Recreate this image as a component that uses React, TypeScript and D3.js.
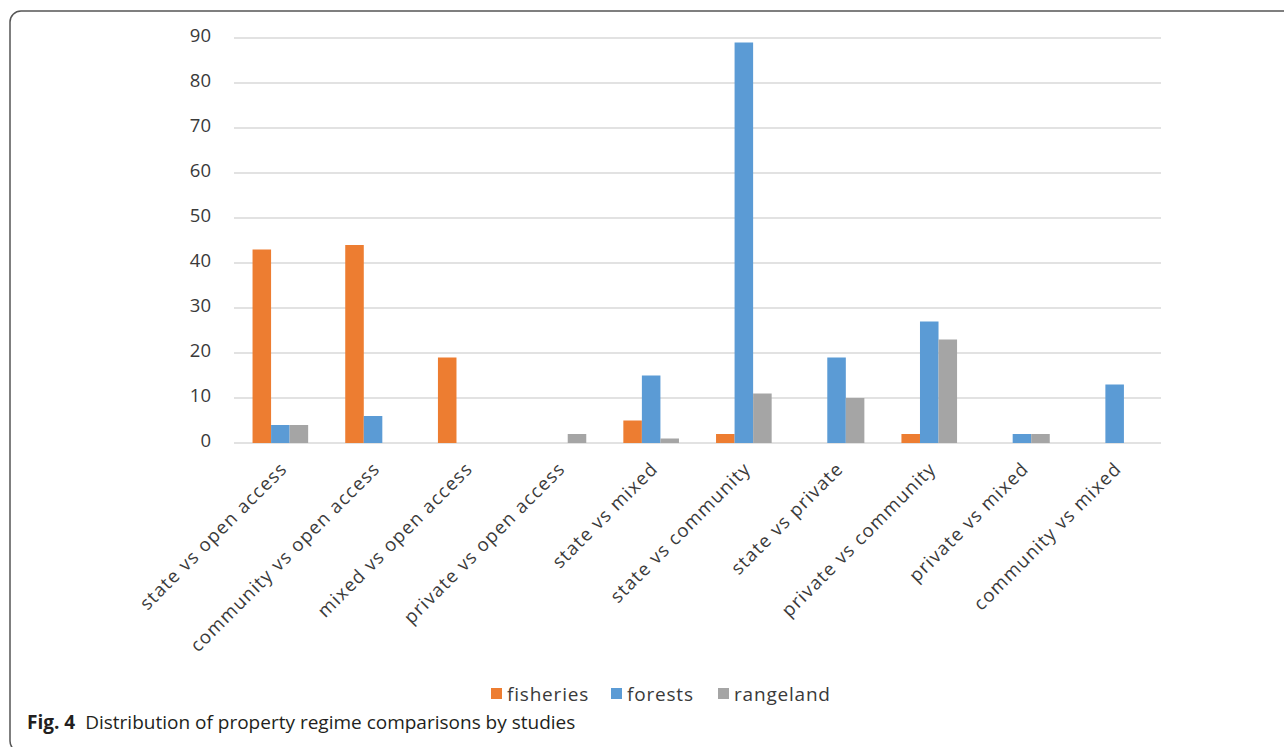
import React, { useEffect, useRef } from "react";
import * as d3 from "d3";

const categories = [
  "state vs open access",
  "community vs open access",
  "mixed vs open access",
  "private vs open access",
  "state vs mixed",
  "state vs community",
  "state vs private",
  "private vs community",
  "private vs mixed",
  "community vs mixed",
];

const seriesNames = ["fisheries", "forests", "rangeland"];
const seriesColors = ["#ED7D31", "#5B9BD5", "#A5A5A5"];

const fisheries = [43, 44, 19, 0, 5, 2, 0, 2, 0, 0];
const forests = [4, 6, 0, 0, 15, 89, 19, 27, 2, 13];
const rangeland = [4, 0, 0, 2, 1, 11, 10, 23, 2, 0];

const yTicks = [0, 10, 20, 30, 40, 50, 60, 70, 80, 90];

const W = 1284;
const H = 747;
const FONT = "'Open Sans', 'Noto Sans', sans-serif";

export default function App() {
  const ref = useRef<SVGSVGElement | null>(null);

  useEffect(() => {
    const svg = d3.select(ref.current);
    svg.selectAll("*").remove();

    const values = [fisheries, forests, rangeland];
    const left = 234, right = 1161, top = 38, bottom = 443;

    const x = d3.scaleBand<string>().domain(categories).range([left, right]).paddingInner(0.4).paddingOuter(0.2);
    const xs = d3.scaleBand<string>().domain(seriesNames).range([0, x.bandwidth()]);
    const y = d3.scaleLinear().domain([0, 90]).range([bottom, top]);

    // figure frame (continues past the right and bottom edges)
    svg.append("rect")
      .attr("x", 10).attr("y", 11)
      .attr("width", 1300).attr("height", 741)
      .attr("rx", 11).attr("ry", 11)
      .attr("fill", "none").attr("stroke", "#555").attr("stroke-width", 1.5);

    // gridlines
    svg.append("g").selectAll("line").data(yTicks).join("line")
      .attr("x1", left).attr("x2", right)
      .attr("y1", (d) => y(d)).attr("y2", (d) => y(d))
      .attr("stroke", "#d9d9d9").attr("stroke-width", 1.5);

    // y tick labels
    svg.append("g").selectAll("text").data(yTicks).join("text")
      .attr("x", 211).attr("y", (d) => y(d) - 2)
      .attr("dy", "0.35em")
      .attr("text-anchor", "end")
      .attr("font-family", FONT).attr("font-size", 18.5)
      .attr("fill", "#3a3a3a")
      .text((d) => String(d));

    // bars
    const gBars = svg.append("g");
    seriesNames.forEach((name, si) => {
      gBars.append("g").selectAll("rect").data(categories).join("rect")
        .attr("x", (c) => (x(c) as number) + (xs(name) as number))
        .attr("width", xs.bandwidth())
        .attr("y", (c, i) => y(values[si][i]))
        .attr("height", (c, i) => bottom - y(values[si][i]))
        .attr("fill", seriesColors[si]);
    });

    // x category labels
    svg.append("g").selectAll("text").data(categories).join("text")
      .attr("transform", (c) => `translate(${(x(c) as number) + x.bandwidth() / 2 + 8},${bottom + 27}) rotate(-45)`)
      .attr("text-anchor", "end")
      .attr("font-family", FONT).attr("font-size", 18.5)
      .attr("letter-spacing", 1.2)
      .attr("fill", "#3a3a3a")
      .text((c) => c);

    // legend
    const legendX = [491, 611, 718];
    const lg = svg.append("g");
    seriesNames.forEach((name, i) => {
      lg.append("rect").attr("x", legendX[i]).attr("y", 688).attr("width", 11).attr("height", 11).attr("fill", seriesColors[i]);
      lg.append("text").attr("x", legendX[i] + 16).attr("y", 701)
        .attr("font-family", FONT).attr("font-size", 19)
        .attr("letter-spacing", 0.8)
        .attr("fill", "#3a3a3a").text(name);
    });

    // caption
    const cap = svg.append("text").attr("x", 27).attr("y", 729)
      .attr("font-family", FONT).attr("font-size", 19).attr("fill", "#231f20");
    cap.append("tspan").attr("font-weight", "bold").text("Fig. 4");
    cap.append("tspan").attr("dx", 10).text("Distribution of property regime comparisons by studies");
  }, []);

  return (
    <svg
      ref={ref}
      width={W}
      height={H}
      style={{ position: "absolute", left: 0, top: 0, background: "#fff" }}
    />
  );
}
